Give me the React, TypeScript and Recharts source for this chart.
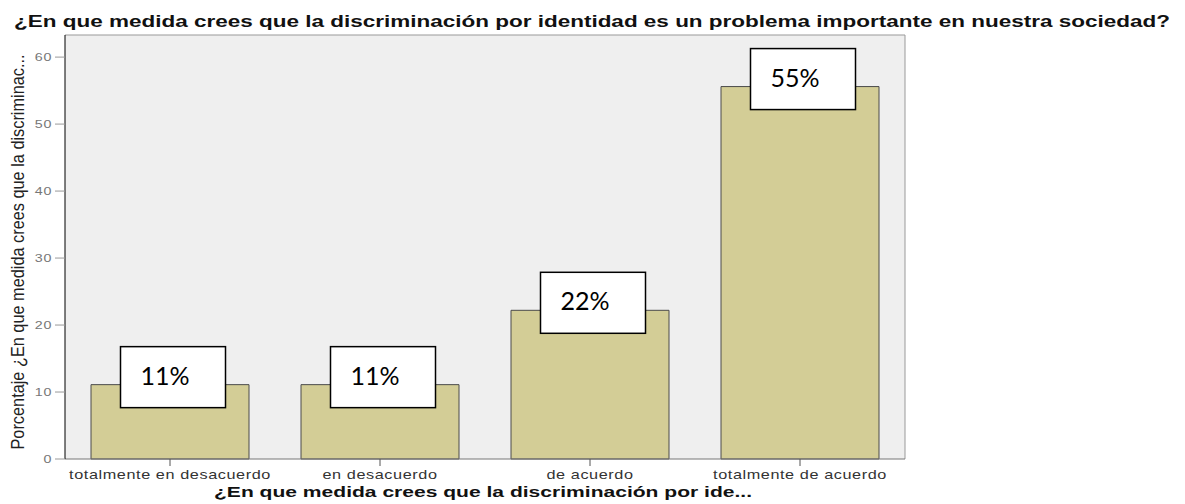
import React from 'react';
import { BarChart, Bar, XAxis, YAxis, CartesianGrid, LabelList } from 'recharts';

const categories = ['totalmente en desacuerdo', 'en desacuerdo', 'de acuerdo', 'totalmente de acuerdo'];
const percentages = [11.1, 11.1, 22.2, 55.6];
const boxLabels = ['11%', '11%', '22%', '55%'];
const yTicks = [0, 10, 20, 30, 40, 50, 60];

const chartTitle = '¿En que medida crees que la discriminación por identidad es un problema importante en nuestra sociedad?';
const xTitle = '¿En que medida crees que la discriminación por ide...';
const yTitle = 'Porcentaje ¿En que medida crees que la discriminac...';

const data = categories.map((cat, i) => ({ cat, pct: percentages[i], label: boxLabels[i] }));

const FONT = "'Liberation Sans', Arial, sans-serif";
// el original está estirado en horizontal, así que se estiran los textos igual
const STRETCH = 1.3;

// caja blanca con el porcentaje encima de cada barra
const renderBox = (props: any) => {
  const { x, y, width, value } = props;
  const cx = Number(x) + Number(width) / 2 + 3;
  const top = Number(y) - 38;
  return (
    <g>
      <rect x={cx - 52.5} y={top} width={105} height={61} fill="#fff" stroke="#000" strokeWidth={1.5} />
      <text x={cx - 32.5} y={top + 38} fontFamily="Lato, 'Open Sans', sans-serif" fontSize={25} fill="#000">
        {value}
      </text>
    </g>
  );
};

const XTick = (props: any) => {
  const { x, y, payload } = props;
  return (
    <text
      transform={`translate(${x} ${Number(y) + 11}) scale(${STRETCH} 1)`}
      textAnchor="middle"
      fontFamily={FONT}
      fontSize={12.5}
      letterSpacing={0.45}
      fill="#333"
    >
      {payload.value}
    </text>
  );
};

const YTick = (props: any) => {
  const { x, y, payload } = props;
  return (
    <text
      transform={`translate(${Number(x) - 1} ${Number(y) + 4}) scale(${STRETCH} 1)`}
      textAnchor="end"
      fontFamily={FONT}
      fontSize={11}
      letterSpacing={0.5}
      fill="#777"
    >
      {payload.value}
    </text>
  );
};

const XTitle = (props: any) => {
  const vb = props.viewBox || { x: 0, y: 0, width: 0 };
  return (
    <text
      x={vb.x + vb.width / 2 - 2}
      y={vb.y + 38}
      textAnchor="middle"
      textLength={538}
      lengthAdjust="spacingAndGlyphs"
      fontFamily={FONT}
      fontWeight="bold"
      fontSize={15.5}
      fill="#111"
    >
      {xTitle}
    </text>
  );
};

const YTitle = (props: any) => {
  const vb = props.viewBox || { x: 0, y: 0, height: 0 };
  const cx = 24;
  const cy = vb.y + vb.height / 2 + 5;
  return (
    <text
      x={cx}
      y={cy}
      transform={`rotate(-90 ${cx} ${cy})`}
      textAnchor="middle"
      textLength={395}
      lengthAdjust="spacingAndGlyphs"
      fontFamily="'Liberation Sans Narrow', 'Liberation Sans', Arial, sans-serif"
      fontSize={19}
      fill="#222"
    >
      {yTitle}
    </text>
  );
};

// borde superior y derecho del área de trazado
const topLine = ({ offset }: any) => [offset.top];
const rightLine = ({ offset }: any) => [offset.left + offset.width];

const App: React.FC = () => {
  return (
    <div style={{ position: 'absolute', left: 0, top: 0, width: 1185, height: 504, background: '#fff' }}>
      <svg width={1185} height={34} style={{ position: 'absolute', left: 0, top: 0 }}>
        <text
          x={14}
          y={27}
          textLength={1156}
          lengthAdjust="spacingAndGlyphs"
          fontFamily={FONT}
          fontWeight="bold"
          fontSize={16}
          fill="#111"
        >
          {chartTitle}
        </text>
      </svg>
      <div style={{ position: 'absolute', left: 0, top: 0 }}>
        <BarChart width={1185} height={504} data={data} margin={{ top: 35, right: 280, bottom: 0, left: 15 }} barCategoryGap={26}>
          <CartesianGrid
            fill="#efefef"
            stroke="#999"
            horizontalCoordinatesGenerator={topLine}
            verticalCoordinatesGenerator={rightLine}
            syncWithTicks={false}
          />
          <XAxis
            dataKey="cat"
            height={45}
            axisLine={{ stroke: '#777' }}
            tickLine={{ stroke: '#555' }}
            tickSize={7}
            tick={<XTick />}
            interval={0}
            label={<XTitle />}
          />
          <YAxis
            domain={[0, 63.3]}
            ticks={yTicks}
            width={50}
            axisLine={{ stroke: '#000' }}
            tickLine={{ stroke: '#999' }}
            tickSize={10}
            tick={<YTick />}
            label={<YTitle />}
          />
          <Bar dataKey="pct" fill="#d3cd96" stroke="#4a4a4a" strokeWidth={1} isAnimationActive={false}>
            <LabelList dataKey="label" content={renderBox} />
          </Bar>
        </BarChart>
      </div>
    </div>
  );
};

export default App;
